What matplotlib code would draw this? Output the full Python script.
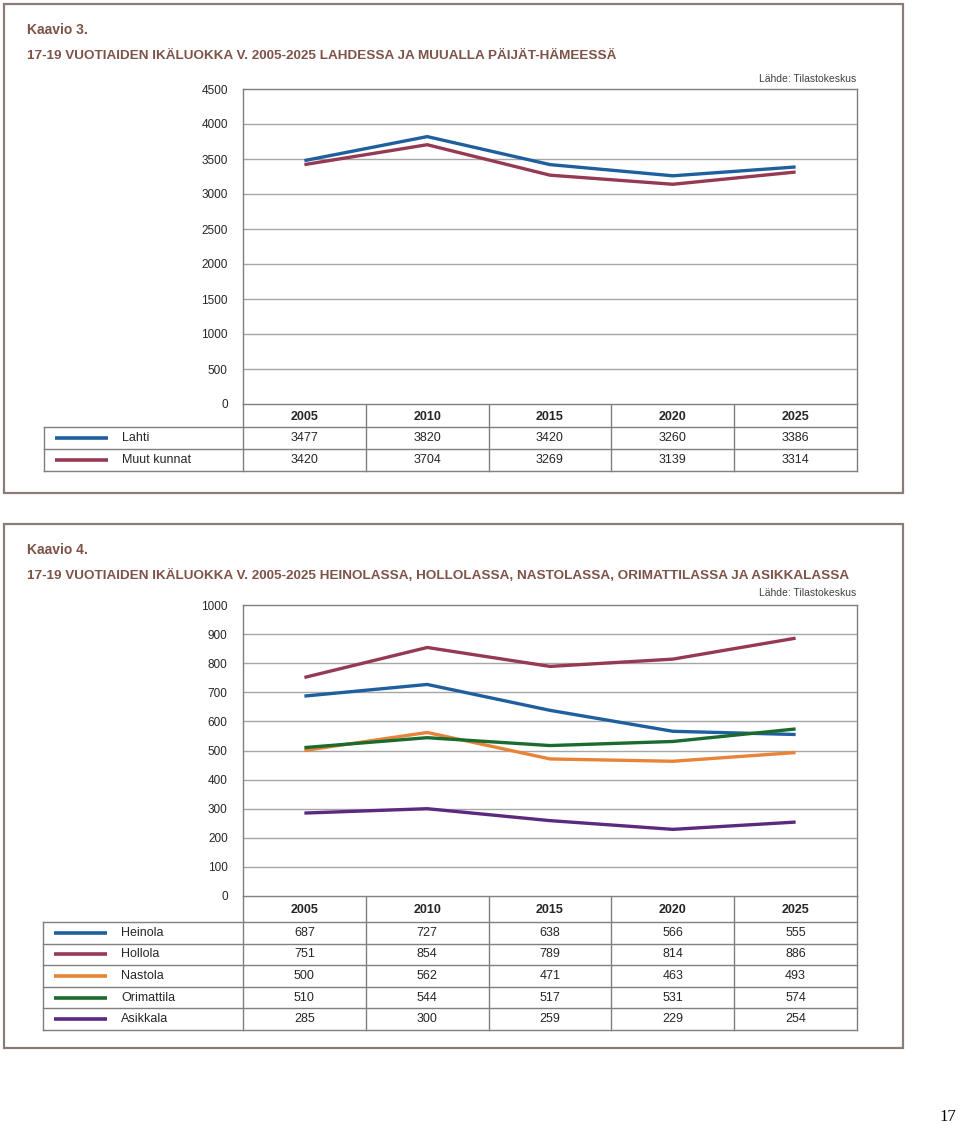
import matplotlib.pyplot as plt
import numpy as np
from matplotlib.patches import Rectangle

plt.rcParams['font.family'] = ['Liberation Sans', 'DejaVu Sans']

years = ['2005', '2010', '2015', '2020', '2025']

# Kaavio 3
names3 = ['Lahti', 'Muut kunnat']
lahti = [3477, 3820, 3420, 3260, 3386]
muut = [3420, 3704, 3269, 3139, 3314]
colors3 = ['#1f5f9e', '#953a52']

# Kaavio 4
names4 = ['Heinola', 'Hollola', 'Nastola', 'Orimattila', 'Asikkala']
heinola = [687, 727, 638, 566, 555]
hollola = [751, 854, 789, 814, 886]
nastola = [500, 562, 471, 463, 493]
orimattila = [510, 544, 517, 531, 574]
asikkala = [285, 300, 259, 229, 254]
colors4 = ['#1f5f9e', '#953a52', '#e8833a', '#1b6b2f', '#5b2a7e']

W, H = 960, 1125
TITLE_C = '#7d5348'
GRID_C = '#a6a6a6'
BORDER_C = '#7f7f7f'

fig = plt.figure(figsize=(W / 100, H / 100), dpi=100)
bg = fig.add_axes([0, 0, 1, 1])
bg.set_xlim(0, W)
bg.set_ylim(H, 0)
bg.axis('off')


def px_axes(x0, y0, x1, y1):
    return fig.add_axes([x0 / W, 1 - y1 / H, (x1 - x0) / W, (y1 - y0) / H])


def chart(frame, title_y, title2, plot_box, ymax, ystep, series, names, colors,
          table_left, row_h, head_h, source_y):
    fx0, fy0, fx1, fy1 = frame
    bg.add_patch(Rectangle((fx0, fy0), fx1 - fx0, fy1 - fy0, fill=False,
                           edgecolor='#8a7d78', lw=1.6))
    bg.text(27, title_y[0], title2[0], color=TITLE_C, fontsize=10,
            fontweight='bold', va='center')
    bg.text(27, title_y[1], title2[1], color=TITLE_C, fontsize=9.7,
            fontweight='bold', va='center')
    x0, y0, x1, y1 = plot_box
    bg.text(x1 - 1, source_y, 'Lähde: Tilastokeskus', color='#404040',
            fontsize=7.5, ha='right', va='center')

    ax = px_axes(x0, y0, x1, y1)
    ax.set_xlim(0, 5)
    ax.set_ylim(0, ymax)
    ticks = np.arange(0, ymax + 1, ystep)
    ax.set_yticks(ticks)
    ax.set_yticklabels([str(int(t)) for t in ticks], fontsize=8.5, color='#262626')
    ax.tick_params(axis='y', length=0, pad=11)
    ax.set_xticks([])
    for t in ticks[1:-1]:
        ax.axhline(t, color=GRID_C, lw=1, zorder=0)
    for s in ['left', 'top', 'right', 'bottom']:
        ax.spines[s].set_color(BORDER_C)
        ax.spines[s].set_linewidth(1)
    xs = np.arange(5) + 0.5
    for vals, c in zip(series, colors):
        ax.plot(xs, vals, color=c, lw=2.4, solid_capstyle='butt')

    # table
    edges = np.linspace(x0, x1, 6)
    ty0 = y1
    ty1 = y1 + head_h
    n = len(series)
    bottom = ty1 + n * row_h
    lc = dict(color=BORDER_C, lw=1)
    bg.plot([x0, x0], [ty0, bottom], **lc)
    for e in edges[1:]:
        bg.plot([e, e], [ty0, bottom], **lc)
    bg.plot([table_left, x1], [ty1, ty1], **lc)
    bg.plot([table_left, table_left], [ty1, bottom], **lc)
    for i in range(n):
        yb = ty1 + (i + 1) * row_h
        bg.plot([table_left, x1], [yb, yb], **lc)
    for j, yr in enumerate(years):
        bg.text((edges[j] + edges[j + 1]) / 2, (ty0 + ty1) / 2 + 1, yr,
                ha='center', va='center', fontsize=9, fontweight='bold',
                color='#262626')
    for i, (vals, name, c) in enumerate(zip(series, names, colors)):
        yc = ty1 + (i + 0.5) * row_h
        bg.plot([table_left + 11, table_left + 64], [yc, yc], color=c, lw=2.6,
                solid_capstyle='butt')
        bg.text(table_left + 78, yc, name, ha='left', va='center',
                fontsize=9, color='#262626')
        for j, v in enumerate(vals):
            bg.text((edges[j] + edges[j + 1]) / 2, yc, str(v), ha='center',
                    va='center', fontsize=9, color='#262626')


chart((4, 4, 903, 493), (30, 56),
      ('Kaavio 3.',
       '17-19 VUOTIAIDEN IKÄLUOKKA V. 2005-2025 LAHDESSA JA MUUALLA PÄIJÄT-HÄMEESSÄ'),
      (243, 89, 857, 404), 4500, 500, [lahti, muut], names3, colors3,
      44, 22, 23, 79)

chart((4, 524, 903, 1048), (550, 575),
      ('Kaavio 4.',
       '17-19 VUOTIAIDEN IKÄLUOKKA V. 2005-2025 HEINOLASSA, HOLLOLASSA, NASTOLASSA, ORIMATTILASSA JA ASIKKALASSA'),
      (243, 605, 857, 896), 1000, 100,
      [heinola, hollola, nastola, orimattila, asikkala], names4, colors4,
      43, 21.6, 26, 593)

bg.text(948, 1117, '17', ha='center', va='center', fontsize=12,
        family='Liberation Serif', color='black')

fig.savefig('out.png', dpi=100, facecolor='white')
